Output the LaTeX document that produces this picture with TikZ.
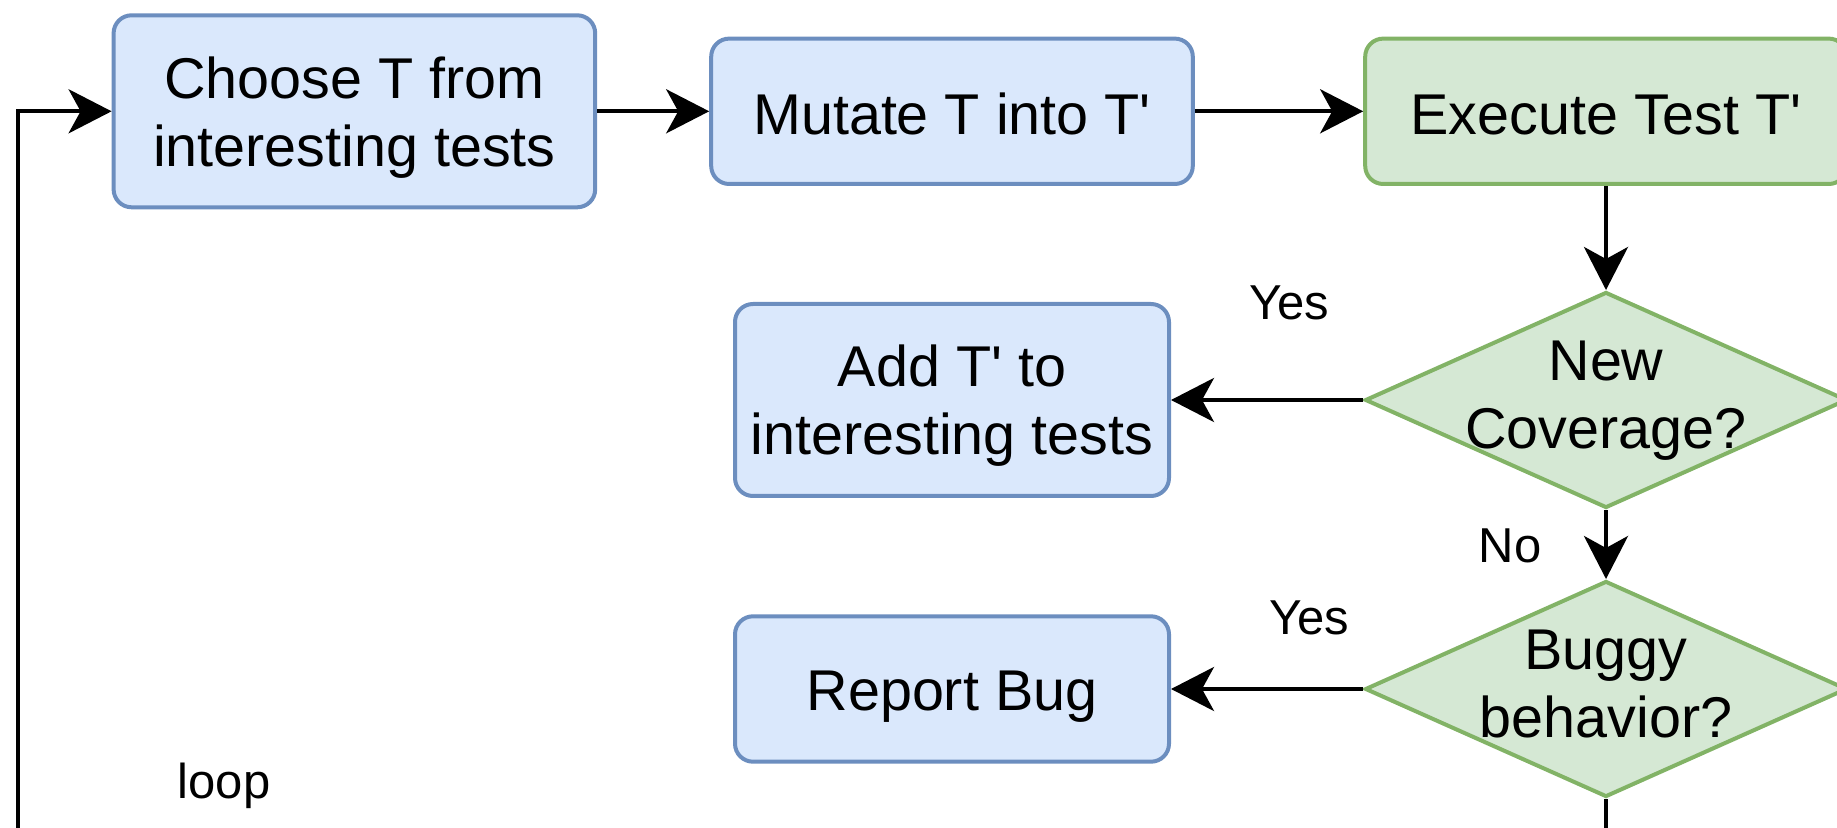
\documentclass[tikz,border=0pt]{standalone}
\usepackage{fontspec}
\setmainfont{Liberation Sans}
\usetikzlibrary{shapes.geometric,arrows.meta}

\definecolor{stepfill}{HTML}{DAE8FC}
\definecolor{stepline}{HTML}{6C8EBF}
\definecolor{testfill}{HTML}{D5E8D4}
\definecolor{testline}{HTML}{82B366}

% straight tick for T'
\newcommand{\tp}{T\textquotesingle}

\begin{document}
\begin{tikzpicture}[x=0.5pt, y=-0.5pt,
    stepbox/.style={draw=stepline, fill=stepfill, line width=2pt, rounded corners=9pt, inner sep=0pt},
    runbox/.style={stepbox, draw=testline, fill=testfill},
    check/.style={diamond, draw=testline, fill=testfill, line width=2pt, inner sep=0pt,
        minimum width=241pt, minimum height=108pt},
    boxtext/.style={align=center, yshift=-3pt, font=\fontsize{28.75}{34}\selectfont},
    flow/.style={-{Stealth[length=21.5pt, width=22pt, inset=6pt]}, line width=2pt},
    tag/.style={font=\fontsize{24.5}{29}\selectfont}]

    \useasboundingbox (0,0) rectangle (1837,828);

    % Main steps along the top
    \node[stepbox, minimum width=240.8pt, minimum height=96pt,
        label={[boxtext]center:Choose T from\\interesting tests}] (choose) at (354.4,111.3) {};
    \node[stepbox, minimum width=240.8pt, minimum height=72.7pt,
        label={[boxtext, yshift=1.5pt]center:Mutate T into \tp}] (mutate) at (952,111.3) {};
    \node[runbox, minimum width=240.8pt, minimum height=72.7pt,
        label={[boxtext, yshift=1pt]center:Execute Test \tp}] (execute) at (1606,111.3) {};

    % Decisions
    \node[check, label={[boxtext, yshift=2.5pt]center:New\\Coverage?}] (coverage) at (1606,400) {};
    \node[check, label={[boxtext, yshift=5.5pt]center:Buggy\\behavior?}] (buggy) at (1606,689) {};

    % Outcomes
    \node[stepbox, minimum width=217pt, minimum height=96pt,
        label={[boxtext]center:Add \tp{} to\\interesting tests}] (addtest) at (952,400) {};
    \node[stepbox, minimum width=217pt, minimum height=72.7pt,
        label={[boxtext, yshift=-1pt]center:Report Bug}] (report) at (952,689) {};

    % Arrows between the steps
    \draw[flow] (choose) -- (mutate);
    \draw[flow] (mutate) -- (execute);
    \draw[flow] (execute) -- (coverage);
    \draw[flow] (coverage) -- (addtest);
    \draw[flow] (coverage) -- (buggy);
    \draw[flow] (buggy) -- (report);

    % Back to the start
    \coordinate (bottom) at (17.6,900);
    \draw[flow] (buggy.south) |- (bottom) |- (choose.west);

    % Edge labels
    \node[tag] (yesadd) at (1289,303) {Yes};
    \node[tag] (no) at (1510,546) {No};
    \node[tag] (yesbug) at (1309,618) {Yes};
    \node[tag] (loop) at (224,786) {loop};

\end{tikzpicture}
\end{document}
